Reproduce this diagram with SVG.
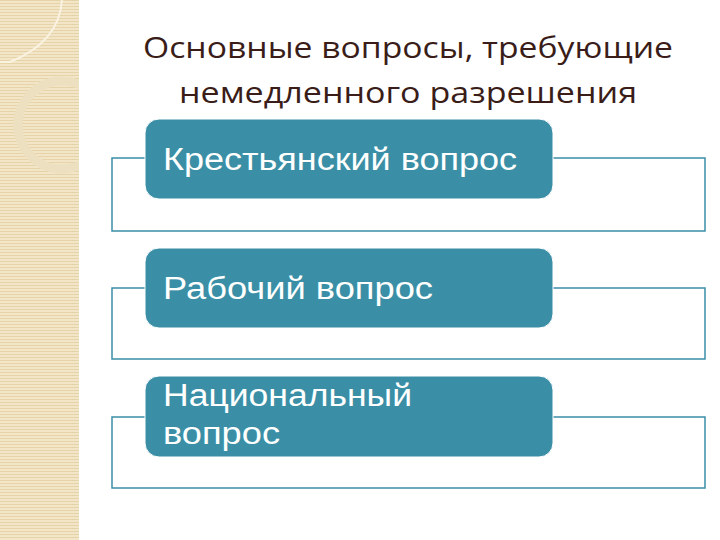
<svg xmlns="http://www.w3.org/2000/svg" width="720" height="540" viewBox="0 0 720 540">
<defs>
<pattern id="stripe" width="4" height="3" patternUnits="userSpaceOnUse">
<rect width="4" height="3" fill="#f3e6c8"/>
<rect width="4" height="1" fill="#e6d3a8"/>
</pattern>
<clipPath id="sc"><rect x="0" y="0" width="79" height="540"/></clipPath>
<style>
.box{fill:#3a8fa6;stroke:#ffffff;stroke-width:1}
.out{fill:none;stroke:#3a8fa6;stroke-width:1.5}
.lbl{font-family:"Liberation Sans",Arial,sans-serif;font-size:31px;fill:#ffffff}
.ttl{font-family:"Open Sans","Noto Sans",sans-serif;font-size:29px;fill:#3a1d18;text-anchor:middle}
</style>
</defs>
<rect width="720" height="540" fill="#ffffff"/>
<g id="strip" clip-path="url(#sc)">
<rect x="0" y="0" width="79" height="540" fill="url(#stripe)"/>
<path d="M0 62 L10 62 C40 50 60 30 62 0" fill="none" stroke="#faf3e2" stroke-width="2"/>
<circle cx="62" cy="125" r="44" fill="none" stroke="#ece0c0" stroke-width="9"/>
</g>
<g id="title">
<text class="ttl" x="408" y="58" textLength="530" lengthAdjust="spacingAndGlyphs">Основные вопросы, требующие</text>
<text class="ttl" x="408" y="103" textLength="458" lengthAdjust="spacingAndGlyphs">немедленного разрешения</text>
</g>
<g id="connectors">
<path class="out" d="M145 158 H112 V231 H705 V158 H553"/>
<path class="out" d="M145 288 H112 V359 H705 V288 H553"/>
<path class="out" d="M145 417 H112 V488 H705 V417 H553"/>
</g>
<g id="n1"><rect class="box" x="145" y="119" width="408" height="80" rx="14"/><text class="lbl" x="163" y="170" textLength="354" lengthAdjust="spacingAndGlyphs">Крестьянский вопрос</text></g>
<g id="n2"><rect class="box" x="145" y="248" width="408" height="80" rx="14"/><text class="lbl" x="163" y="299" textLength="270" lengthAdjust="spacingAndGlyphs">Рабочий вопрос</text></g>
<g id="n3"><rect class="box" x="145" y="376" width="408" height="81" rx="14"/><text class="lbl" x="163" y="406" textLength="249" lengthAdjust="spacingAndGlyphs">Национальный</text><text class="lbl" x="163" y="444" textLength="117" lengthAdjust="spacingAndGlyphs">вопрос</text></g>
</svg>
